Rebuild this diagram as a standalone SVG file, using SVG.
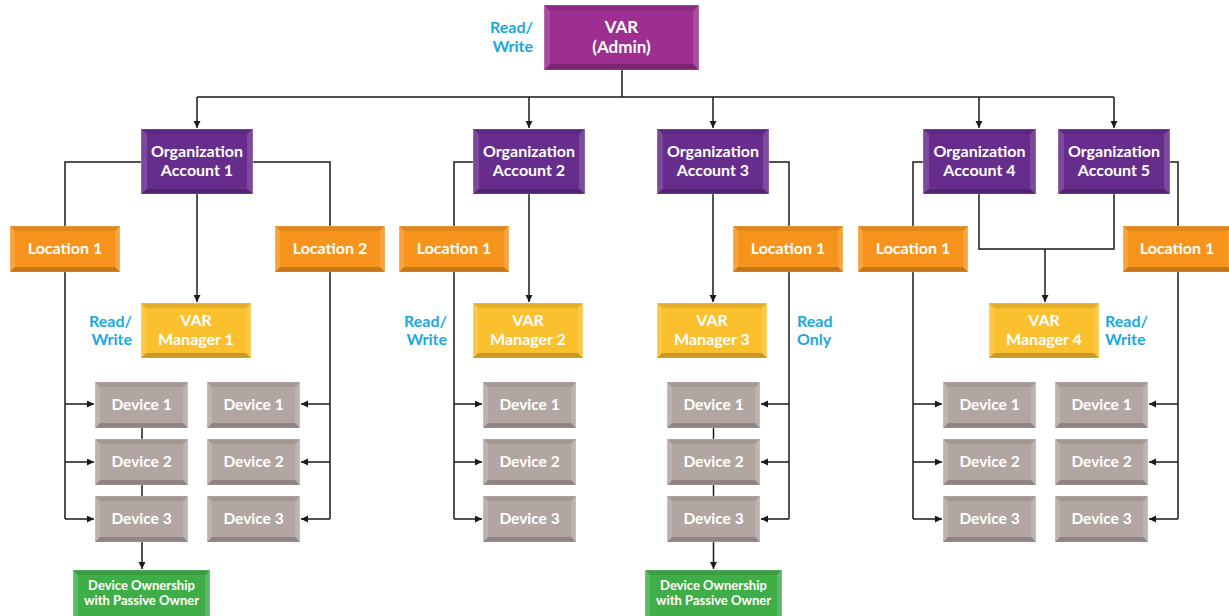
<svg xmlns="http://www.w3.org/2000/svg" width="1229" height="616" viewBox="0 0 1229 616">
<defs>
<style>
text{font-family:Lato,"Liberation Sans",sans-serif;font-weight:bold;text-anchor:middle;fill:#ffffff;font-size:16px}
.lbl{fill:#1ba8e0;font-size:16px}
.big{font-size:17px}
.dv{font-size:15.5px}
.sm{font-size:13px}
.ln{fill:none;stroke:#1a1a1a;stroke-width:1.5}
.admin .face{fill:#9c2f8f}
.org .face{fill:#662d8c}
.loc .face{fill:#f7941d}
.mgr .face{fill:#fbc02d}
.dev .face{fill:#b2a6a2}
.own .face{fill:#3fae49}
.face{stroke:#ffffff;stroke-opacity:0.3;stroke-width:1}
.bt{fill:#000;fill-opacity:0.09}
.bb{fill:#000;fill-opacity:0.2}
.bs{fill:#fff;fill-opacity:0.14}
</style>
<marker id="ah" markerWidth="8" markerHeight="8" refX="7" refY="3.5" orient="auto" markerUnits="userSpaceOnUse">
<path d="M0,0 L7,3.5 L0,7 z" fill="#1a1a1a"/>
</marker>
</defs>
<rect width="1229" height="616" fill="#ffffff"/>

<g id="connectors">
<path class="ln" d="M622,70 V97 M197,97 H1114"/>
<path class="ln" d="M197,97 V128" marker-end="url(#ah)"/>
<path class="ln" d="M529,97 V128" marker-end="url(#ah)"/>
<path class="ln" d="M713,97 V128" marker-end="url(#ah)"/>
<path class="ln" d="M979,97 V128" marker-end="url(#ah)"/>
<path class="ln" d="M1114,97 V128" marker-end="url(#ah)"/>
<path class="ln" d="M141,162 H65 V519"/>
<path class="ln" d="M65,404 H94" marker-end="url(#ah)"/>
<path class="ln" d="M65,462 H94" marker-end="url(#ah)"/>
<path class="ln" d="M65,519 H94" marker-end="url(#ah)"/>
<path class="ln" d="M253,162 H330 V519"/>
<path class="ln" d="M330,404 H301" marker-end="url(#ah)"/>
<path class="ln" d="M330,462 H301" marker-end="url(#ah)"/>
<path class="ln" d="M330,519 H301" marker-end="url(#ah)"/>
<path class="ln" d="M197,194 V302" marker-end="url(#ah)"/>
<path class="ln" d="M142,427 V569" marker-end="url(#ah)"/>
<path class="ln" d="M473,162 H454 V519"/>
<path class="ln" d="M454,404 H482" marker-end="url(#ah)"/>
<path class="ln" d="M454,462 H482" marker-end="url(#ah)"/>
<path class="ln" d="M454,519 H482" marker-end="url(#ah)"/>
<path class="ln" d="M529,194 V302" marker-end="url(#ah)"/>
<path class="ln" d="M769,162 H789 V519"/>
<path class="ln" d="M789,404 H761" marker-end="url(#ah)"/>
<path class="ln" d="M789,462 H761" marker-end="url(#ah)"/>
<path class="ln" d="M789,519 H761" marker-end="url(#ah)"/>
<path class="ln" d="M713,194 V302" marker-end="url(#ah)"/>
<path class="ln" d="M713.5,427 V569" marker-end="url(#ah)"/>
<path class="ln" d="M923,162 H913 V519"/>
<path class="ln" d="M913,404 H942" marker-end="url(#ah)"/>
<path class="ln" d="M913,462 H942" marker-end="url(#ah)"/>
<path class="ln" d="M913,519 H942" marker-end="url(#ah)"/>
<path class="ln" d="M979,194 V249 H1114 V194"/>
<path class="ln" d="M1045,249 V302" marker-end="url(#ah)"/>
<path class="ln" d="M1170,162 H1178 V519"/>
<path class="ln" d="M1178,404 H1149" marker-end="url(#ah)"/>
<path class="ln" d="M1178,462 H1149" marker-end="url(#ah)"/>
<path class="ln" d="M1178,519 H1149" marker-end="url(#ah)"/>
</g>

<g id="var-admin" class="admin" transform="translate(544,5)">
<rect class="face" width="155" height="65"/>
<polygon class="bt" points="0,0 155,0 149,6 6,6"/>
<polygon class="bb" points="0,65 6,59 149,59 155,65"/>
<polygon class="bs" points="0,0 6,6 6,59 0,65"/>
<polygon class="bs" points="155,0 155,65 149,59 149,6"/>
<text class="big" x="77.5" y="28">VAR</text>
<text class="big" x="77.5" y="48">(Admin)</text>
</g>
<g id="lbl-admin"><text class="lbl" x="533" y="33" style="text-anchor:end">Read/</text><text class="lbl" x="533" y="52" style="text-anchor:end">Write</text></g>

<g id="org1" class="org" transform="translate(141,129)">
<rect class="face" width="112" height="65"/>
<polygon class="bt" points="0,0 112,0 106,5 6,5"/><polygon class="bb" points="0,65 6,60 106,60 112,65"/>
<polygon class="bs" points="0,0 6,5 6,60 0,65"/><polygon class="bs" points="112,0 112,65 106,60 106,5"/>
<text x="56" y="28">Organization</text><text x="56" y="47">Account 1</text>
</g>
<g id="org2" class="org" transform="translate(473,129)">
<rect class="face" width="112" height="65"/>
<polygon class="bt" points="0,0 112,0 106,5 6,5"/><polygon class="bb" points="0,65 6,60 106,60 112,65"/>
<polygon class="bs" points="0,0 6,5 6,60 0,65"/><polygon class="bs" points="112,0 112,65 106,60 106,5"/>
<text x="56" y="28">Organization</text><text x="56" y="47">Account 2</text>
</g>
<g id="org3" class="org" transform="translate(657,129)">
<rect class="face" width="112" height="65"/>
<polygon class="bt" points="0,0 112,0 106,5 6,5"/><polygon class="bb" points="0,65 6,60 106,60 112,65"/>
<polygon class="bs" points="0,0 6,5 6,60 0,65"/><polygon class="bs" points="112,0 112,65 106,60 106,5"/>
<text x="56" y="28">Organization</text><text x="56" y="47">Account 3</text>
</g>
<g id="org4" class="org" transform="translate(923,129)">
<rect class="face" width="113" height="65"/>
<polygon class="bt" points="0,0 113,0 107,5 6,5"/><polygon class="bb" points="0,65 6,60 107,60 113,65"/>
<polygon class="bs" points="0,0 6,5 6,60 0,65"/><polygon class="bs" points="113,0 113,65 107,60 107,5"/>
<text x="56.5" y="28">Organization</text><text x="56.5" y="47">Account 4</text>
</g>
<g id="org5" class="org" transform="translate(1058,129)">
<rect class="face" width="112" height="65"/>
<polygon class="bt" points="0,0 112,0 106,5 6,5"/><polygon class="bb" points="0,65 6,60 106,60 112,65"/>
<polygon class="bs" points="0,0 6,5 6,60 0,65"/><polygon class="bs" points="112,0 112,65 106,60 106,5"/>
<text x="56" y="28">Organization</text><text x="56" y="47">Account 5</text>
</g>

<g id="loc1-org1" class="loc" transform="translate(10,226)">
<rect class="face" width="110" height="46"/>
<polygon class="bt" points="0,0 110,0 105,5 5,5"/><polygon class="bb" points="0,46 5,41 105,41 110,46"/>
<polygon class="bs" points="0,0 5,5 5,41 0,46"/><polygon class="bs" points="110,0 110,46 105,41 105,5"/>
<text x="55" y="28">Location 1</text>
</g>
<g id="loc2-org1" class="loc" transform="translate(275,226)">
<rect class="face" width="110" height="46"/>
<polygon class="bt" points="0,0 110,0 105,5 5,5"/><polygon class="bb" points="0,46 5,41 105,41 110,46"/>
<polygon class="bs" points="0,0 5,5 5,41 0,46"/><polygon class="bs" points="110,0 110,46 105,41 105,5"/>
<text x="55" y="28">Location 2</text>
</g>
<g id="loc1-org2" class="loc" transform="translate(399,226)">
<rect class="face" width="110" height="46"/>
<polygon class="bt" points="0,0 110,0 105,5 5,5"/><polygon class="bb" points="0,46 5,41 105,41 110,46"/>
<polygon class="bs" points="0,0 5,5 5,41 0,46"/><polygon class="bs" points="110,0 110,46 105,41 105,5"/>
<text x="55" y="28">Location 1</text>
</g>
<g id="loc1-org3" class="loc" transform="translate(733,226)">
<rect class="face" width="110" height="46"/>
<polygon class="bt" points="0,0 110,0 105,5 5,5"/><polygon class="bb" points="0,46 5,41 105,41 110,46"/>
<polygon class="bs" points="0,0 5,5 5,41 0,46"/><polygon class="bs" points="110,0 110,46 105,41 105,5"/>
<text x="55" y="28">Location 1</text>
</g>
<g id="loc1-org4" class="loc" transform="translate(858,226)">
<rect class="face" width="110" height="46"/>
<polygon class="bt" points="0,0 110,0 105,5 5,5"/><polygon class="bb" points="0,46 5,41 105,41 110,46"/>
<polygon class="bs" points="0,0 5,5 5,41 0,46"/><polygon class="bs" points="110,0 110,46 105,41 105,5"/>
<text x="55" y="28">Location 1</text>
</g>
<g id="loc1-org5" class="loc" transform="translate(1123,226)">
<rect class="face" width="110" height="46"/>
<polygon class="bt" points="0,0 110,0 105,5 5,5"/><polygon class="bb" points="0,46 5,41 105,41 110,46"/>
<polygon class="bs" points="0,0 5,5 5,41 0,46"/><polygon class="bs" points="110,0 110,46 105,41 105,5"/>
<text x="54" y="28">Location 1</text>
</g>

<g id="mgr1" class="mgr" transform="translate(141,303)">
<rect class="face" width="110" height="55"/>
<polygon class="bt" points="0,0 110,0 105,5 5,5"/><polygon class="bb" points="0,55 5,50 105,50 110,55"/>
<polygon class="bs" points="0,0 5,5 5,50 0,55"/><polygon class="bs" points="110,0 110,55 105,50 105,5"/>
<text x="55" y="23">VAR</text><text x="55" y="42">Manager 1</text>
</g>
<g id="mgr2" class="mgr" transform="translate(473,303)">
<rect class="face" width="110" height="55"/>
<polygon class="bt" points="0,0 110,0 105,5 5,5"/><polygon class="bb" points="0,55 5,50 105,50 110,55"/>
<polygon class="bs" points="0,0 5,5 5,50 0,55"/><polygon class="bs" points="110,0 110,55 105,50 105,5"/>
<text x="55" y="23">VAR</text><text x="55" y="42">Manager 2</text>
</g>
<g id="mgr3" class="mgr" transform="translate(657,303)">
<rect class="face" width="110" height="55"/>
<polygon class="bt" points="0,0 110,0 105,5 5,5"/><polygon class="bb" points="0,55 5,50 105,50 110,55"/>
<polygon class="bs" points="0,0 5,5 5,50 0,55"/><polygon class="bs" points="110,0 110,55 105,50 105,5"/>
<text x="55" y="23">VAR</text><text x="55" y="42">Manager 3</text>
</g>
<g id="mgr4" class="mgr" transform="translate(989,303)">
<rect class="face" width="110" height="55"/>
<polygon class="bt" points="0,0 110,0 105,5 5,5"/><polygon class="bb" points="0,55 5,50 105,50 110,55"/>
<polygon class="bs" points="0,0 5,5 5,50 0,55"/><polygon class="bs" points="110,0 110,55 105,50 105,5"/>
<text x="55" y="23">VAR</text><text x="55" y="42">Manager 4</text>
</g>

<g id="lbl-mgr1"><text class="lbl" x="132" y="327" style="text-anchor:end">Read/</text><text class="lbl" x="132" y="345" style="text-anchor:end">Write</text></g>
<g id="lbl-mgr2"><text class="lbl" x="447" y="327" style="text-anchor:end">Read/</text><text class="lbl" x="447" y="345" style="text-anchor:end">Write</text></g>
<g id="lbl-mgr3"><text class="lbl" x="797" y="327" style="text-anchor:start">Read</text><text class="lbl" x="797" y="345" style="text-anchor:start">Only</text></g>
<g id="lbl-mgr4"><text class="lbl" x="1105" y="327" style="text-anchor:start">Read/</text><text class="lbl" x="1105" y="345" style="text-anchor:start">Write</text></g>

<g id="devices">
<g id="o1-l1-d1" class="dev" transform="translate(95,382)"><rect class="face" width="93" height="46"/><polygon class="bt" points="0,0 93,0 88,5 5,5"/><polygon class="bb" points="0,46 5,41 88,41 93,46"/><polygon class="bs" points="0,0 5,5 5,41 0,46"/><polygon class="bs" points="93,0 93,46 88,41 88,5"/><text class="dv" x="46.5" y="28">Device 1</text></g>
<g id="o1-l1-d2" class="dev" transform="translate(95,439)"><rect class="face" width="93" height="46"/><polygon class="bt" points="0,0 93,0 88,5 5,5"/><polygon class="bb" points="0,46 5,41 88,41 93,46"/><polygon class="bs" points="0,0 5,5 5,41 0,46"/><polygon class="bs" points="93,0 93,46 88,41 88,5"/><text class="dv" x="46.5" y="28">Device 2</text></g>
<g id="o1-l1-d3" class="dev" transform="translate(95,496)"><rect class="face" width="93" height="46"/><polygon class="bt" points="0,0 93,0 88,5 5,5"/><polygon class="bb" points="0,46 5,41 88,41 93,46"/><polygon class="bs" points="0,0 5,5 5,41 0,46"/><polygon class="bs" points="93,0 93,46 88,41 88,5"/><text class="dv" x="46.5" y="28">Device 3</text></g>
<g id="o1-l2-d1" class="dev" transform="translate(207,382)"><rect class="face" width="93" height="46"/><polygon class="bt" points="0,0 93,0 88,5 5,5"/><polygon class="bb" points="0,46 5,41 88,41 93,46"/><polygon class="bs" points="0,0 5,5 5,41 0,46"/><polygon class="bs" points="93,0 93,46 88,41 88,5"/><text class="dv" x="46.5" y="28">Device 1</text></g>
<g id="o1-l2-d2" class="dev" transform="translate(207,439)"><rect class="face" width="93" height="46"/><polygon class="bt" points="0,0 93,0 88,5 5,5"/><polygon class="bb" points="0,46 5,41 88,41 93,46"/><polygon class="bs" points="0,0 5,5 5,41 0,46"/><polygon class="bs" points="93,0 93,46 88,41 88,5"/><text class="dv" x="46.5" y="28">Device 2</text></g>
<g id="o1-l2-d3" class="dev" transform="translate(207,496)"><rect class="face" width="93" height="46"/><polygon class="bt" points="0,0 93,0 88,5 5,5"/><polygon class="bb" points="0,46 5,41 88,41 93,46"/><polygon class="bs" points="0,0 5,5 5,41 0,46"/><polygon class="bs" points="93,0 93,46 88,41 88,5"/><text class="dv" x="46.5" y="28">Device 3</text></g>
<g id="o2-d1" class="dev" transform="translate(483,382)"><rect class="face" width="93" height="46"/><polygon class="bt" points="0,0 93,0 88,5 5,5"/><polygon class="bb" points="0,46 5,41 88,41 93,46"/><polygon class="bs" points="0,0 5,5 5,41 0,46"/><polygon class="bs" points="93,0 93,46 88,41 88,5"/><text class="dv" x="46.5" y="28">Device 1</text></g>
<g id="o2-d2" class="dev" transform="translate(483,439)"><rect class="face" width="93" height="46"/><polygon class="bt" points="0,0 93,0 88,5 5,5"/><polygon class="bb" points="0,46 5,41 88,41 93,46"/><polygon class="bs" points="0,0 5,5 5,41 0,46"/><polygon class="bs" points="93,0 93,46 88,41 88,5"/><text class="dv" x="46.5" y="28">Device 2</text></g>
<g id="o2-d3" class="dev" transform="translate(483,496)"><rect class="face" width="93" height="46"/><polygon class="bt" points="0,0 93,0 88,5 5,5"/><polygon class="bb" points="0,46 5,41 88,41 93,46"/><polygon class="bs" points="0,0 5,5 5,41 0,46"/><polygon class="bs" points="93,0 93,46 88,41 88,5"/><text class="dv" x="46.5" y="28">Device 3</text></g>
<g id="o3-d1" class="dev" transform="translate(667,382)"><rect class="face" width="93" height="46"/><polygon class="bt" points="0,0 93,0 88,5 5,5"/><polygon class="bb" points="0,46 5,41 88,41 93,46"/><polygon class="bs" points="0,0 5,5 5,41 0,46"/><polygon class="bs" points="93,0 93,46 88,41 88,5"/><text class="dv" x="46.5" y="28">Device 1</text></g>
<g id="o3-d2" class="dev" transform="translate(667,439)"><rect class="face" width="93" height="46"/><polygon class="bt" points="0,0 93,0 88,5 5,5"/><polygon class="bb" points="0,46 5,41 88,41 93,46"/><polygon class="bs" points="0,0 5,5 5,41 0,46"/><polygon class="bs" points="93,0 93,46 88,41 88,5"/><text class="dv" x="46.5" y="28">Device 2</text></g>
<g id="o3-d3" class="dev" transform="translate(667,496)"><rect class="face" width="93" height="46"/><polygon class="bt" points="0,0 93,0 88,5 5,5"/><polygon class="bb" points="0,46 5,41 88,41 93,46"/><polygon class="bs" points="0,0 5,5 5,41 0,46"/><polygon class="bs" points="93,0 93,46 88,41 88,5"/><text class="dv" x="46.5" y="28">Device 3</text></g>
<g id="o4-d1" class="dev" transform="translate(943,382)"><rect class="face" width="93" height="46"/><polygon class="bt" points="0,0 93,0 88,5 5,5"/><polygon class="bb" points="0,46 5,41 88,41 93,46"/><polygon class="bs" points="0,0 5,5 5,41 0,46"/><polygon class="bs" points="93,0 93,46 88,41 88,5"/><text class="dv" x="46.5" y="28">Device 1</text></g>
<g id="o4-d2" class="dev" transform="translate(943,439)"><rect class="face" width="93" height="46"/><polygon class="bt" points="0,0 93,0 88,5 5,5"/><polygon class="bb" points="0,46 5,41 88,41 93,46"/><polygon class="bs" points="0,0 5,5 5,41 0,46"/><polygon class="bs" points="93,0 93,46 88,41 88,5"/><text class="dv" x="46.5" y="28">Device 2</text></g>
<g id="o4-d3" class="dev" transform="translate(943,496)"><rect class="face" width="93" height="46"/><polygon class="bt" points="0,0 93,0 88,5 5,5"/><polygon class="bb" points="0,46 5,41 88,41 93,46"/><polygon class="bs" points="0,0 5,5 5,41 0,46"/><polygon class="bs" points="93,0 93,46 88,41 88,5"/><text class="dv" x="46.5" y="28">Device 3</text></g>
<g id="o5-d1" class="dev" transform="translate(1055,382)"><rect class="face" width="93" height="46"/><polygon class="bt" points="0,0 93,0 88,5 5,5"/><polygon class="bb" points="0,46 5,41 88,41 93,46"/><polygon class="bs" points="0,0 5,5 5,41 0,46"/><polygon class="bs" points="93,0 93,46 88,41 88,5"/><text class="dv" x="46.5" y="28">Device 1</text></g>
<g id="o5-d2" class="dev" transform="translate(1055,439)"><rect class="face" width="93" height="46"/><polygon class="bt" points="0,0 93,0 88,5 5,5"/><polygon class="bb" points="0,46 5,41 88,41 93,46"/><polygon class="bs" points="0,0 5,5 5,41 0,46"/><polygon class="bs" points="93,0 93,46 88,41 88,5"/><text class="dv" x="46.5" y="28">Device 2</text></g>
<g id="o5-d3" class="dev" transform="translate(1055,496)"><rect class="face" width="93" height="46"/><polygon class="bt" points="0,0 93,0 88,5 5,5"/><polygon class="bb" points="0,46 5,41 88,41 93,46"/><polygon class="bs" points="0,0 5,5 5,41 0,46"/><polygon class="bs" points="93,0 93,46 88,41 88,5"/><text class="dv" x="46.5" y="28">Device 3</text></g>
</g>

<g id="own1" class="own" transform="translate(73,570)">
<rect class="face" width="137" height="52"/>
<polygon class="bt" points="0,0 137,0 132,5 5,5"/>
<polygon class="bs" points="0,0 5,5 5,52 0,52"/><polygon class="bs" points="137,0 137,52 132,52 132,5"/>
<text class="sm" x="68.5" y="20">Device Ownership</text><text class="sm" x="68.5" y="35">with Passive Owner</text>
</g>
<g id="own3" class="own" transform="translate(645,570)">
<rect class="face" width="137" height="52"/>
<polygon class="bt" points="0,0 137,0 132,5 5,5"/>
<polygon class="bs" points="0,0 5,5 5,52 0,52"/><polygon class="bs" points="137,0 137,52 132,52 132,5"/>
<text class="sm" x="68.5" y="20">Device Ownership</text><text class="sm" x="68.5" y="35">with Passive Owner</text>
</g>
</svg>
